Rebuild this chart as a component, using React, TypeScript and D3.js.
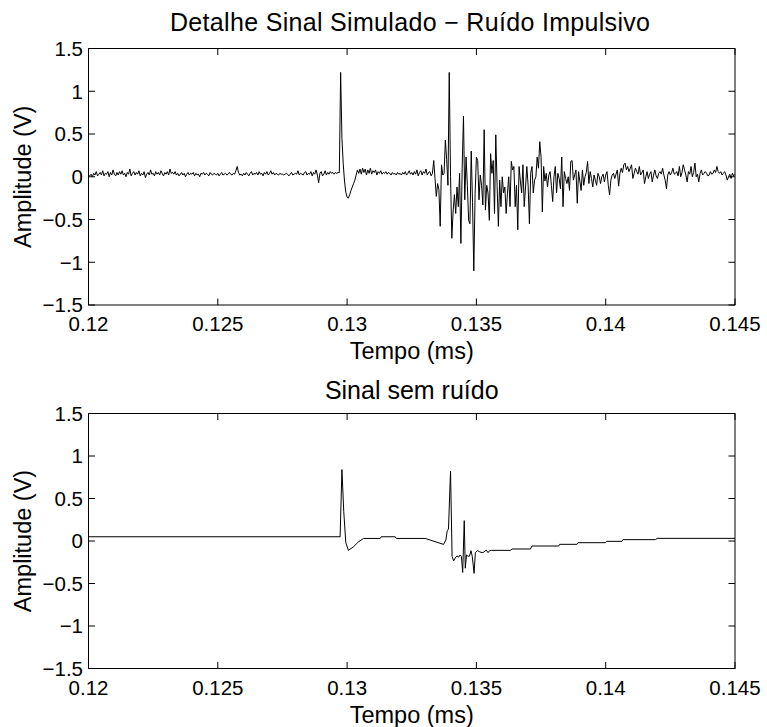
import React from "react";
import * as d3 from "d3";

// ---- Data ----
const T_INICIO = 0.12; // ms
const T_FIM = 0.145; // ms

// Noisy simulated signal, uniformly sampled between T_INICIO and T_FIM
const ruidoBase1 = [
  0.02, 0.01, 0.03, 0.0, 0.04, 0.02, 0.06, 0.01, 0.03, 0.05,
  0.02, 0.07, 0.01, 0.04, 0.03, 0.06, 0.0, 0.05, 0.02, 0.08,
  0.03, 0.01, 0.05, 0.02, 0.06, 0.03, 0.07, 0.02, 0.04, 0.0,
  0.05, 0.03, 0.09, 0.01, 0.04, 0.06, 0.02, 0.05, 0.03, 0.07,
  0.01, 0.04, 0.02, 0.06, -0.01, 0.03, 0.05, 0.02, 0.08, 0.03,
  0.04, 0.01, 0.06, 0.03, 0.05, 0.02, 0.07, 0.04, 0.01, 0.05,
  0.03, 0.06, 0.02, 0.09, 0.04, 0.05, 0.03, 0.06, 0.02, 0.04,
  0.01, 0.03, 0.05, 0.02, 0.04, 0.0, 0.03, 0.05, 0.02, 0.04,
  0.03, 0.05, 0.01, 0.04, 0.02, 0.03, 0.0, 0.04, 0.03, 0.05,
  0.02, 0.04, 0.03, 0.01, 0.05, 0.03, 0.02, 0.04, 0.03, 0.02,
  0.04, 0.01, 0.03, 0.05, 0.02, 0.03, 0.04, 0.02, 0.03, 0.05,
  0.03, 0.02, 0.04, 0.03, 0.07, 0.12, 0.05, 0.02, 0.03, 0.01,
  0.04, 0.02, 0.05, 0.03, 0.01, 0.04, 0.06, 0.02, 0.04, 0.03,
  0.05, 0.02, 0.06, 0.03, 0.04, 0.01, 0.05, 0.03, 0.06, 0.02,
  0.04, 0.07, 0.03, 0.05, 0.02, 0.04, 0.03, 0.02, 0.04, 0.03,
  0.03, 0.02, 0.03, 0.04, 0.03, 0.01, 0.03, 0.05, 0.02, 0.03,
  0.04, 0.03, 0.07, 0.02, 0.04, 0.03, 0.02, 0.05, 0.06, 0.02,
  0.04, 0.03, 0.06, 0.01, 0.05, 0.03, 0.08, 0.02, -0.07, 0.04,
  0.06, 0.01, 0.03, 0.07, 0.02, 0.05, 0.03, 0.06, 0.04, 0.05,
  0.03, 0.05, 0.04, 0.05, 0.05,
];
const ruidoPulso1 = [
  1.22, 0.45, 0.15, -0.05, -0.18, -0.24, -0.25, -0.21, -0.16, -0.12,
  -0.08, -0.04, 0.02, 0.08, 0.04, 0.09,
];
const ruidoBase2 = [
  0.03, 0.1, 0.05, 0.09, 0.02, 0.08, 0.04, 0.1, 0.03, 0.07,
  0.05, 0.08, 0.02, 0.06, 0.04, 0.07, 0.03, 0.05, 0.04, 0.06,
  0.03, 0.05, 0.04, 0.02, 0.05, 0.03, 0.04, 0.02, 0.05, 0.03,
  0.04, 0.02, 0.05, 0.03, 0.06, 0.02, 0.04, 0.07, 0.03, 0.05,
  0.02, 0.06, 0.03, 0.08, 0.01, 0.05, 0.07, 0.02, 0.06, 0.04,
  0.09, 0.02, 0.05,
];
const ruidoRajada = [
  0.06, 0.01, 0.04, 0.19, -0.02, -0.23, -0.08, -0.15, -0.58, 0.14,
  0.02, 0.04, 0.43, 0.2, -0.1, 1.22, 0.0, -0.72, -0.4, -0.21,
  -0.43, -0.12, -0.35, 0.04, -0.78, 0.1, 0.71, -0.27, 0.23, -0.1,
  -0.51, -0.55, 0.3, -0.3, -1.1, -0.2, 0.23, 0.19, -0.27, 0.02,
  -0.1, -0.33, 0.55, -0.39, -0.1, -0.19, -0.51, 0.27, 0.04, 0.19,
  -0.43, 0.49, -0.1, -0.58, -0.04, -0.35, 0.0, -0.19, -0.12, -0.43,
  -0.2, 0.0, -0.35, 0.18, 0.08, 0.12, -0.35, -0.1, -0.62, 0.12,
  -0.05, -0.19, 0.14, -0.35, -0.12, 0.12, -0.1, -0.55, 0.04, 0.12,
  -0.19, -0.04, 0.0, 0.23, 0.1, 0.41, 0.23, -0.41, 0.12, -0.05,
  0.04, -0.12, 0.02,
];
const ruidoCauda = [
  0.06, -0.1, -0.29, 0.0, 0.12, -0.19, 0.04, -0.02, -0.14, 0.23,
  -0.35, 0.06, -0.02, -0.08, 0.0, -0.16, 0.18, 0.19, -0.04, 0.02,
  0.08, -0.31, 0.06, -0.05, -0.16, 0.08, -0.1, 0.0, 0.05, 0.18,
  -0.08, 0.06, -0.02, -0.12, 0.02, -0.04, -0.1, 0.04, 0.0, -0.08,
  0.0, 0.03, -0.06, 0.02, 0.06, -0.1, -0.21, -0.04, 0.02, 0.04,
  -0.02, 0.03, 0.08, -0.11, 0.04, 0.1, 0.05, 0.14, 0.16, 0.08,
  0.12, 0.06, 0.1, 0.14, -0.02, 0.04, 0.1, 0.06, 0.03, 0.12,
  0.02, 0.05, 0.08, -0.08, 0.0, 0.06, -0.02, 0.03, 0.06, -0.06,
  0.02, 0.08, 0.01, -0.02, 0.04, 0.06, 0.03, 0.1, 0.02, -0.04,
  -0.14, 0.02, 0.06, 0.02, 0.05, 0.1, 0.03, 0.04, 0.06, 0.01,
  0.12, 0.0, 0.05, 0.14, 0.08, 0.02, -0.06, 0.06, 0.03, 0.12,
  0.0, 0.05, 0.16, 0.0, 0.03, -0.06, 0.04, 0.08, 0.02, 0.04,
  0.06, 0.04, 0.01, 0.02, 0.06, 0.03, 0.04, 0.08, 0.05, 0.12,
  0.06, 0.04, 0.06, 0.02, 0.04, 0.06, 0.02, -0.04, 0.0, 0.03,
  -0.02, 0.04, 0.01, 0.03,
];

// Clean signal (breakpoints)
const limpoTempo = [
  0.12, 0.12973, 0.1298, 0.12987, 0.12995, 0.13005, 0.13025, 0.13044, 0.13064, 0.13128,
  0.13132, 0.13186, 0.1319, 0.13302, 0.13373, 0.13382, 0.13387, 0.13392, 0.134, 0.13406,
  0.13412, 0.13418, 0.13425, 0.13431, 0.13437, 0.13442, 0.13447, 0.13453, 0.13457, 0.13462,
  0.13468, 0.13473, 0.13479, 0.13484, 0.13491, 0.13496, 0.13504, 0.13511, 0.13522, 0.13529,
  0.13538, 0.13545, 0.13551, 0.13558, 0.13631, 0.13638, 0.13709, 0.13715, 0.13818, 0.13822,
  0.13889, 0.13893, 0.13999, 0.14003, 0.14063, 0.14067, 0.14192, 0.14199, 0.145,
];
const limpoValor = [
  0.05, 0.05, 0.84, 0.35, -0.02, -0.11, -0.067, -0.01, 0.03, 0.03,
  0.05, 0.05, 0.03, 0.03, -0.04, 0.012, 0.12, 0.14, 0.82, -0.18,
  -0.235, -0.2, -0.176, -0.19, -0.164, -0.18, -0.37, 0.24, -0.32, -0.164,
  -0.18, -0.18, -0.114, -0.18, -0.38, -0.137, -0.114, -0.125, -0.137, -0.13,
  -0.106, -0.137, -0.114, -0.11, -0.11, -0.094, -0.094, -0.059, -0.059, -0.039,
  -0.039, -0.02, -0.02, -0.004, -0.004, 0.016, 0.016, 0.031, 0.031,
];

const xTicks = [0.12, 0.125, 0.13, 0.135, 0.14, 0.145];
const xTickLabels = ["0.12", "0.125", "0.13", "0.135", "0.14", "0.145"];
const yTicks = [-1.5, -1, -0.5, 0, 0.5, 1, 1.5];
const yTickLabels = ["\u22121.5", "\u22121", "\u22120.5", "0", "0.5", "1", "1.5"];

const titulo1 = "Detalhe Sinal Simulado \u2212 Ruído Impulsivo";
const titulo2 = "Sinal sem ruído";
const rotuloX = "Tempo (ms)";
const rotuloY = "Amplitude (V)";

// ---- Layout ----
const W = 767;
const H = 727;
const LEFT = 88.5;
const RIGHT = 735;
const FONT = "'Liberation Sans', Arial, Helvetica, sans-serif";
const TICK_FS = 20.5;
const LABEL_FS = 23.5;
const TITLE_FS = 25;
const TICK_LEN = 6.5;

type Pt = [number, number];

function Panel({
  top,
  bottom,
  data,
  title,
}: {
  top: number;
  bottom: number;
  data: Pt[];
  title: React.ReactNode;
}) {
  const x = d3.scaleLinear().domain([T_INICIO, T_FIM]).range([LEFT, RIGHT]);
  const y = d3.scaleLinear().domain([-1.5, 1.5]).range([bottom, top]);
  const line = d3
    .line<Pt>()
    .x((d) => x(d[0]))
    .y((d) => y(d[1]));
  const cy = (top + bottom) / 2;
  const cx = (LEFT + RIGHT) / 2;
  return (
    <g>
      <defs>
        <clipPath id={`clip-${top}`}>
          <rect x={LEFT} y={top} width={RIGHT - LEFT} height={bottom - top} />
        </clipPath>
      </defs>
      <path d={line(data) || ""} fill="none" stroke="#000" strokeWidth={1} clipPath={`url(#clip-${top})`} />
      <rect x={LEFT} y={top} width={RIGHT - LEFT} height={bottom - top} fill="none" stroke="#000" strokeWidth={1} />
      {xTicks.map((t, i) => (
        <g key={"xt" + i}>
          <line x1={x(t)} x2={x(t)} y1={bottom} y2={bottom - TICK_LEN} stroke="#000" strokeWidth={1} />
          <line x1={x(t)} x2={x(t)} y1={top} y2={top + TICK_LEN} stroke="#000" strokeWidth={1} />
          <text x={x(t)} y={bottom + 26} textAnchor="middle" fontSize={TICK_FS} fontFamily={FONT}>
            {xTickLabels[i]}
          </text>
        </g>
      ))}
      {yTicks.map((t, i) => (
        <g key={"yt" + i}>
          <line x1={LEFT} x2={LEFT + TICK_LEN} y1={y(t)} y2={y(t)} stroke="#000" strokeWidth={1} />
          <line x1={RIGHT} x2={RIGHT - TICK_LEN} y1={y(t)} y2={y(t)} stroke="#000" strokeWidth={1} />
          <text x={83} y={y(t) + 7.3} textAnchor="end" fontSize={TICK_FS} fontFamily={FONT}>
            {yTickLabels[i]}
          </text>
        </g>
      ))}
      {title}
      <text x={cx} y={bottom + 54} textAnchor="middle" fontSize={LABEL_FS} fontFamily={FONT}>
        {rotuloX}
      </text>
      <text
        transform={`translate(31,${cy}) rotate(-90)`}
        textAnchor="middle"
        fontSize={LABEL_FS}
        fontFamily={FONT}
      >
        {rotuloY}
      </text>
    </g>
  );
}

export default function App() {
  const ruido = [...ruidoBase1, ...ruidoPulso1, ...ruidoBase2, ...ruidoRajada, ...ruidoCauda];
  const dt = (T_FIM - T_INICIO) / (ruido.length - 1);
  const serieRuido: Pt[] = ruido.map((v, i) => [T_INICIO + i * dt, v]);
  const serieLimpa: Pt[] = limpoTempo.map((t, i) => [t, limpoValor[i]]);
  const cx = (LEFT + RIGHT) / 2;

  const tituloSuperior = (
    <text
      x={170}
      y={31}
      fontSize={TITLE_FS}
      fontFamily={FONT}
      textLength={480}
      lengthAdjust="spacing"
    >
      {titulo1}
    </text>
  );
  const tituloInferior = (
    <text x={cx} y={399} textAnchor="middle" fontSize={TITLE_FS} fontFamily={FONT}>
      {titulo2}
    </text>
  );

  return (
    <svg
      width={W}
      height={H}
      viewBox={`0 0 ${W} ${H}`}
      style={{ position: "absolute", left: 0, top: 0, background: "#fff" }}
    >
      <rect x={0} y={0} width={W} height={H} fill="#fff" />
      <Panel top={48.5} bottom={305} data={serieRuido} title={tituloSuperior} />
      <Panel top={413.5} bottom={668.5} data={serieLimpa} title={tituloInferior} />
    </svg>
  );
}
